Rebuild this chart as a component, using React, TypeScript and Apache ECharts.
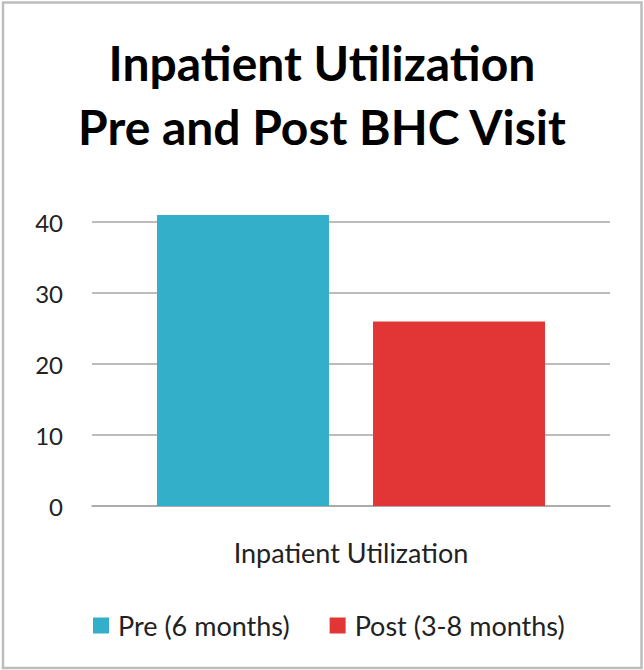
import React, { useEffect, useRef } from "react";
import * as echarts from "echarts";

const titleLines = ["Inpatient Utilization", "Pre and Post BHC Visit"];
const categories = ["Inpatient Utilization"];
const seriesNames = ["Pre (6 months)", "Post (3-8 months)"];
const preValues = [41];
const postValues = [26];
const yTicks = { min: 0, max: 40, interval: 10 };
const colors = ["#33afca", "#e23535"];

const FONT = "Lato, 'Open Sans', sans-serif";

export default function App() {
  const ref = useRef<HTMLDivElement>(null);
  useEffect(() => {
    if (!ref.current) return;
    const chart = echarts.init(ref.current, null, { renderer: "svg" });
    chart.setOption({
      animation: false,
      backgroundColor: "#ffffff",
      title: {
        text: titleLines.join("\n"),
        left: "center",
        top: 25,
        textStyle: {
          fontFamily: FONT,
          fontWeight: "bold",
          fontSize: 48,
          lineHeight: 64,
          color: "#000000",
        },
      },
      graphic: [
        {
          type: "rect",
          shape: { x: 3, y: 2.5, width: 638.5, height: 665.5 },
          style: { fill: "none", stroke: "#bdbdbd", lineWidth: 2.5 },
          silent: true,
          z: 100,
        },
      ],
      grid: { left: 92, right: 34, top: 222, bottom: 164, containLabel: false },
      xAxis: {
        type: "category",
        data: categories,
        axisLine: { show: true, lineStyle: { color: "#a6a6a6", width: 1.5 } },
        axisTick: { show: false },
        axisLabel: {
          fontFamily: FONT,
          fontSize: 27,
          color: "#222222",
          margin: 33,
        },
      },
      yAxis: {
        type: "value",
        min: yTicks.min,
        max: yTicks.max,
        interval: yTicks.interval,
        axisLine: { show: false },
        axisTick: { show: false },
        axisLabel: {
          fontFamily: FONT,
          fontSize: 24,
          color: "#222222",
          margin: 29,
        },
        splitLine: { lineStyle: { color: "#a6a6a6", width: 1.5 } },
      },
      legend: {
        bottom: 26,
        left: 88,
        icon: "rect",
        itemWidth: 16,
        itemHeight: 16,
        itemGap: 40,
        textStyle: { fontFamily: FONT, fontSize: 27, color: "#222222", padding: [0, 0, 0, 4] },
        data: seriesNames,
      },
      series: [
        {
          name: seriesNames[0],
          type: "bar",
          data: preValues,
          barWidth: 172,
          barGap: "25.6%",
          clip: false,
          itemStyle: { color: colors[0] },
        },
        {
          name: seriesNames[1],
          type: "bar",
          data: postValues,
          barWidth: 172,
          barGap: "25.6%",
          clip: false,
          itemStyle: { color: colors[1] },
        },
      ],
    });
    return () => chart.dispose();
  }, []);
  return (
    <div
      ref={ref}
      style={{ position: "fixed", left: 0, top: 0, width: 644, height: 670 }}
    />
  );
}
